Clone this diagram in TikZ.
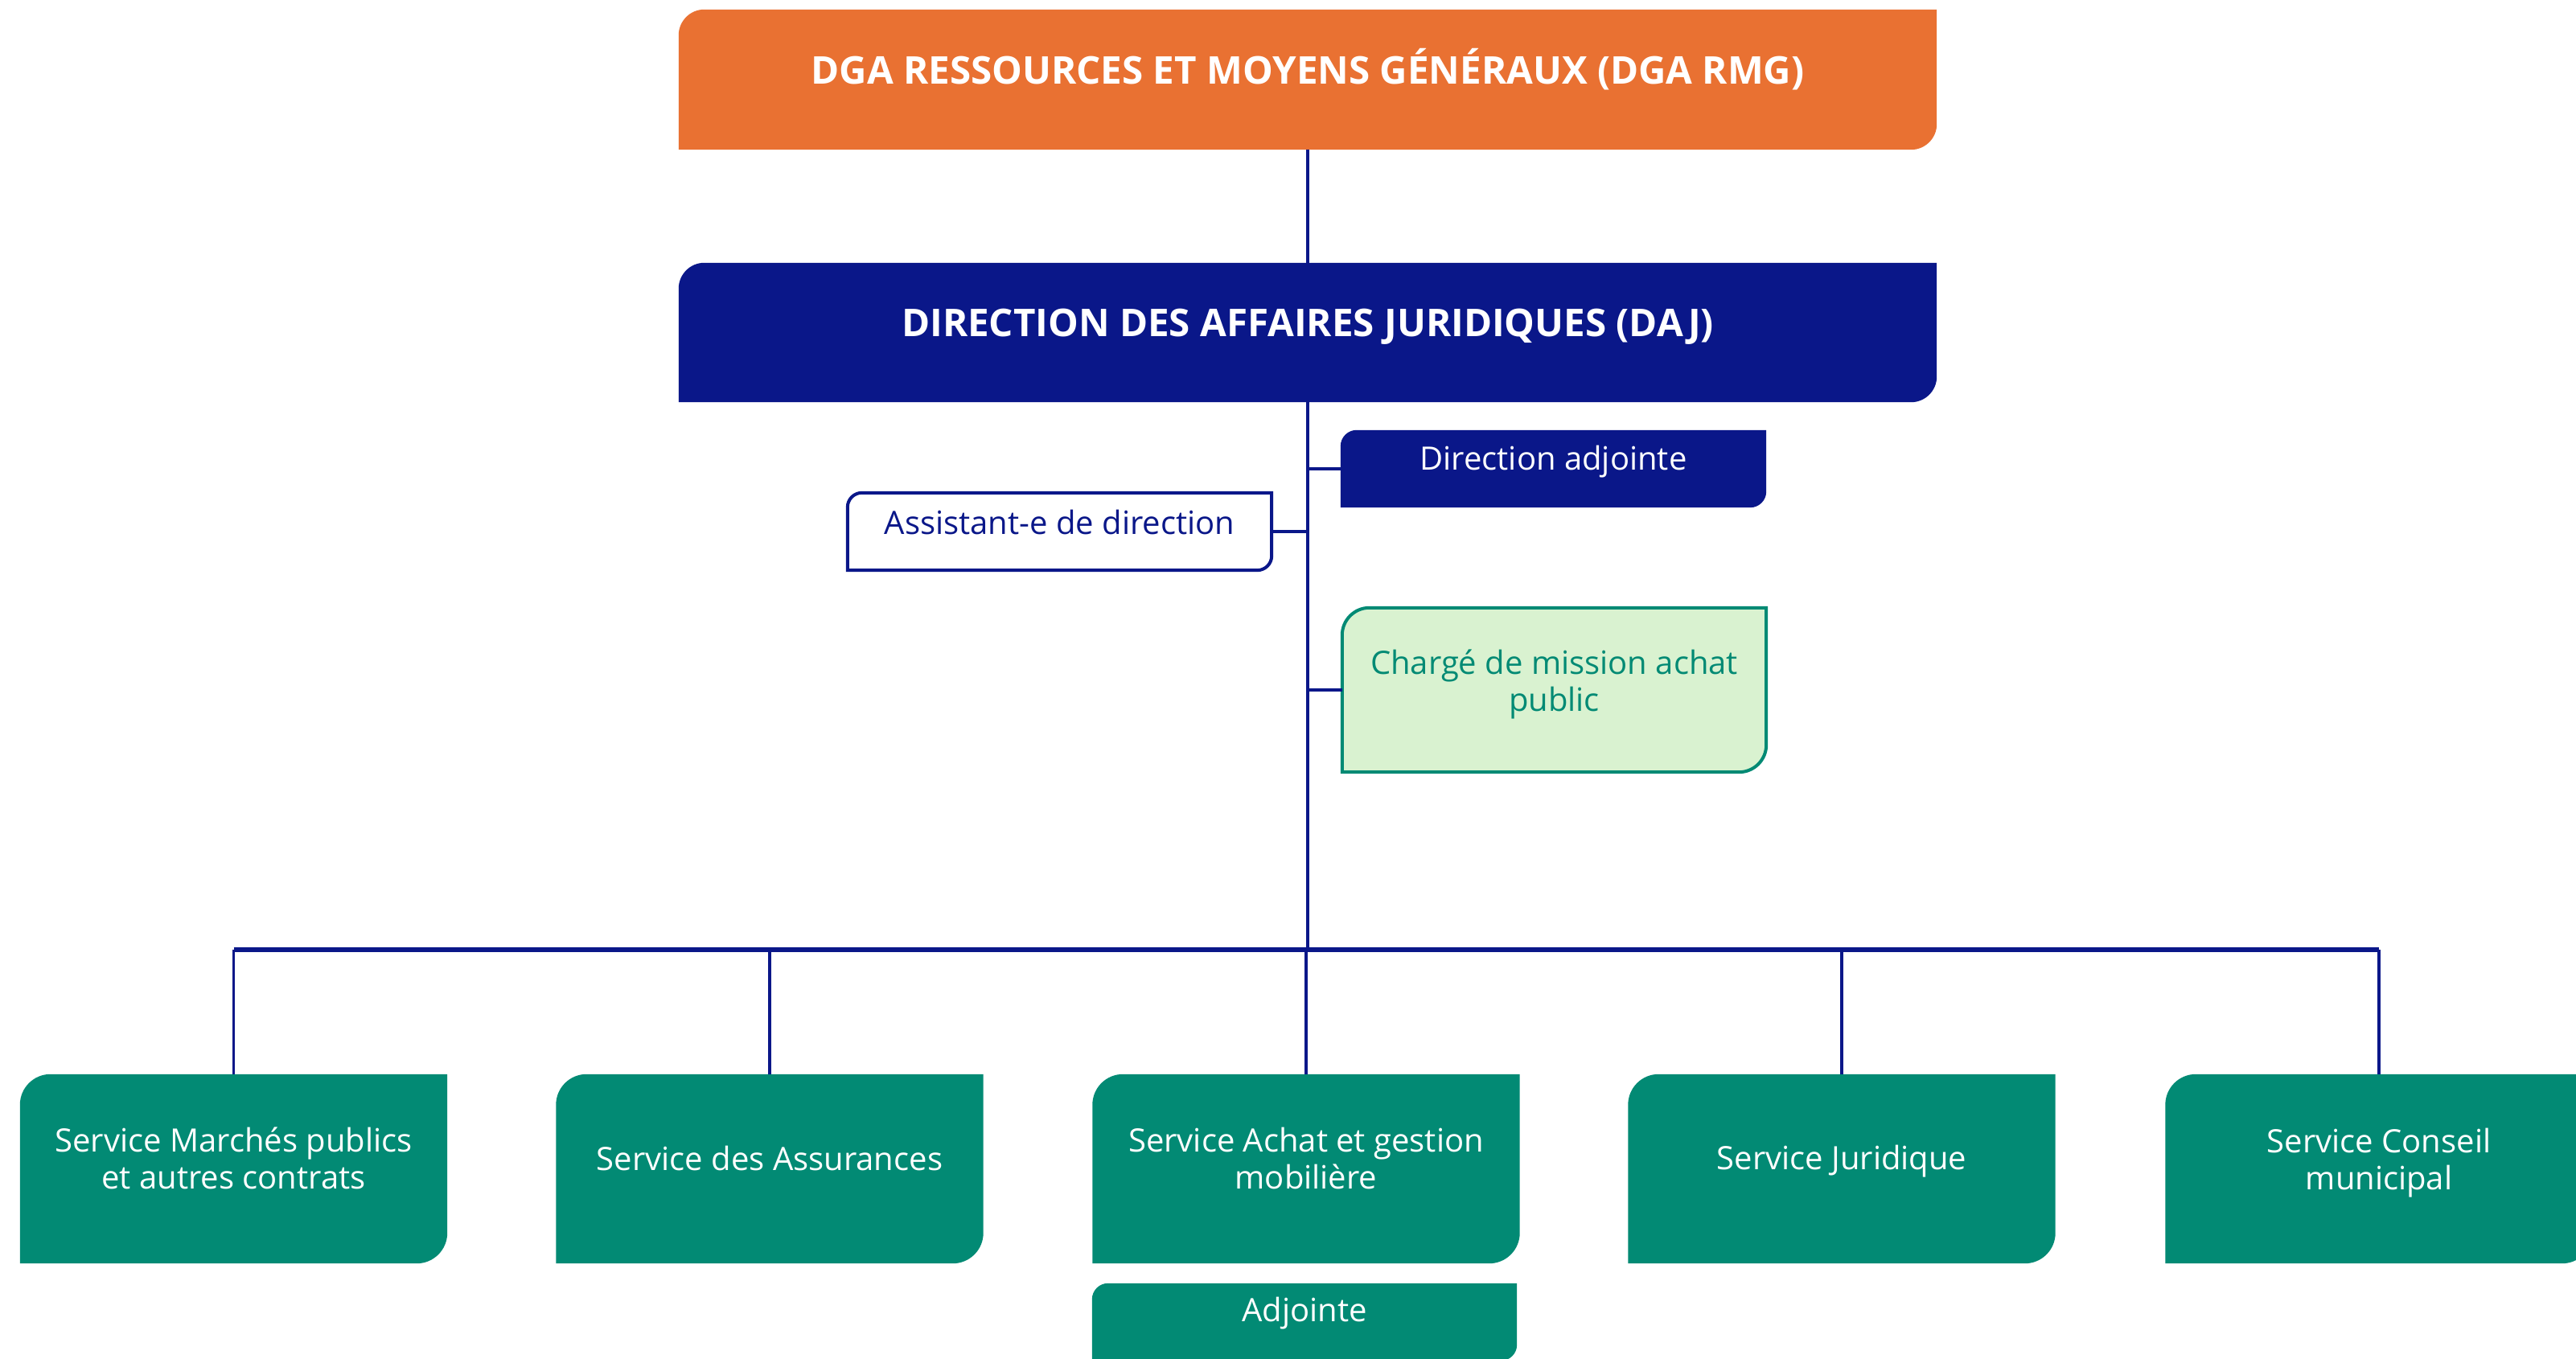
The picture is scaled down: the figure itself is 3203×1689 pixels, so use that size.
\documentclass[tikz,border=0pt]{standalone}
\usepackage{fontspec}
\setmainfont{Open Sans}
\usetikzlibrary{calc}
\definecolor{dorange}{HTML}{E97132}
\definecolor{dnavy}{HTML}{0A1789}
\definecolor{dteal}{HTML}{028A74}
\definecolor{dlight}{HTML}{D9F2D0}
\pgfdeclarelayer{bg}
\pgfsetlayers{bg,main}
\newcommand\cutshape[3]{%
  \begin{pgfonlayer}{bg}
  \path[#3] (#1.south west) -- ([yshift=-#2]#1.north west)
     arc[start angle=180,end angle=90,radius=#2] -- (#1.north east)
     -- ([yshift=#2]#1.south east) arc[start angle=0,end angle=-90,radius=#2] -- cycle;
  \end{pgfonlayer}}
\tikzset{
  box/.style={shape=rectangle, inner sep=0pt, draw=none},
  bigtxt/.style={inner sep=0pt, text=white, font=\fontsize{47.5}{56}\selectfont\bfseries},
  wtxt/.style={inner sep=0pt, text=white, align=center, font=\fontsize{40}{46}\selectfont},
  conn/.style={draw=dnavy, line width=3.5pt},
  busline/.style={draw=dnavy, line width=6pt},
}
\begin{document}
\begin{tikzpicture}[x=1pt,y=1pt]
\begin{pgfonlayer}{bg}
\fill[white] (0,0) rectangle (3203,1689);
\end{pgfonlayer}
\useasboundingbox (0,0) rectangle (3203,1689);
% top boxes
\node[box, minimum width=1564, minimum height=174] (dga) at (1626,1590) {};
\cutshape{dga}{32pt}{fill=dorange}
\node[bigtxt] (dgat) at ([yshift=13]dga.center) {DGA RESSOURCES ET MOYENS GÉNÉRAUX (DGA RMG)};
\node[box, minimum width=1564, minimum height=173] (daj) at (1626,1275.5) {};
\cutshape{daj}{32pt}{fill=dnavy}
\node[bigtxt] (dajt) at ([yshift=7]daj.center) {DIRECTION DES AFFAIRES JURIDIQUES (DAJ)};
% side boxes
\node[box, minimum width=529, minimum height=96] (da) at (1931.5,1106) {};
\cutshape{da}{20pt}{fill=dnavy}
\node[wtxt] (dat) at ([yshift=9]da.center) {Direction adjointe};
\node[box, minimum width=527, minimum height=96] (asst) at (1317.5,1028) {};
\cutshape{asst}{18pt}{fill=white, draw=dnavy, line width=4pt}
\node[wtxt, text=dnavy] (asstt) at ([yshift=11]asst.center) {Assistant-e de direction};
\node[box, minimum width=527, minimum height=204] (cm) at (1932.5,831) {};
\cutshape{cm}{34pt}{fill=dlight, draw=dteal, line width=4pt}
\node[wtxt, text=dteal] (cmt) at ([yshift=7]cm.center) {Chargé de mission achat\\public};
% bottom boxes
\foreach \n/\x/\dy/\t in {s1/290.5/13/{Service Marchés publics\\et autres contrats},
                      s2/957/13/{Service des Assurances},
                      s3/1624/13/{Service Achat et gestion\\mobilière},
                      s4/2290/9/{Service Juridique},
                      s5/2958/7/{Service Conseil\\municipal}}{
  \node[box, minimum width=531, minimum height=235] (\n) at (\x,235.5) {};
  \cutshape{\n}{38pt}{fill=dteal}
  \node[wtxt] (\n t) at ([yshift=\dy]\n.center) {\t};
}
\node[box, minimum width=528, minimum height=96] (adj) at (1622,45) {};
\cutshape{adj}{20pt}{fill=dteal}
\node[wtxt] (adjt) at ([yshift=11]adj.center) {Adjointe};
% connectors
\coordinate (busc) at (1625,508);
\draw[conn] (dga.south) -- (daj.north);
\draw[conn] (daj.south) -- (daj.south |- busc);
\draw[conn] (daj.south |- da.west) -- (da.west);
\draw[conn] (daj.south |- asst.east) -- (asst.east);
\draw[conn] (daj.south |- cm.west) -- (cm.west);
\draw[busline] (s1.north |- busc) -- (s5.north |- busc);
\foreach \n in {s1,s2,s3,s4,s5}{\draw[conn] (\n.north) -- (\n.north |- busc);}
\end{tikzpicture}
\end{document}
